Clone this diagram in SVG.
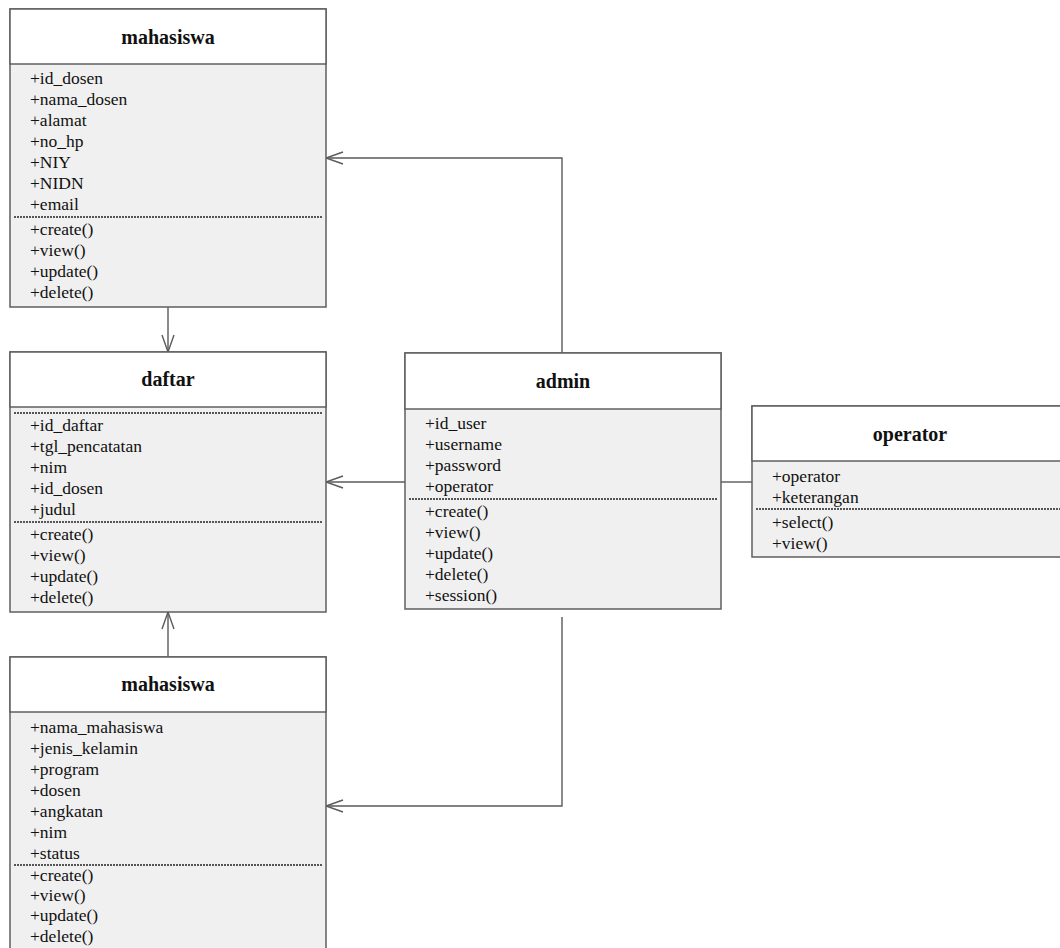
<svg xmlns="http://www.w3.org/2000/svg" width="1060" height="948" viewBox="0 0 1060 948">
<style>
.box{fill:#f0f0f0;stroke:#5f5f5f;stroke-width:1.5}
.hdr{fill:#ffffff;stroke:#5f5f5f;stroke-width:1.5}
.dot{stroke:#222;stroke-width:1.3;stroke-dasharray:2,1;fill:none}
.t{font-family:"Liberation Serif","Times New Roman",serif;font-size:17.5px;fill:#111}
.h{font-family:"Liberation Serif","Times New Roman",serif;font-size:20px;font-weight:bold;fill:#111;text-anchor:middle}
.c{fill:none;stroke:#5a5a5a;stroke-width:1.4}
</style>
<defs>
<marker id="arr" markerUnits="userSpaceOnUse" viewBox="-19 -8 21 16" markerWidth="21" markerHeight="16" refX="0" refY="0" orient="auto" overflow="visible">
<path d="M-17,-6 L0,0 L-17,6" fill="none" stroke="#5a5a5a" stroke-width="1.4"/>
</marker>
</defs>

<g id="connectors">
<path class="c" d="M168,307 L168,352" marker-end="url(#arr)"/>
<path class="c" d="M168,657 L168,612" marker-end="url(#arr)"/>
<path class="c" d="M562,353 L562,158 L326,158" marker-end="url(#arr)"/>
<path class="c" d="M405,482 L326,482" marker-end="url(#arr)"/>
<path class="c" d="M562,617 L562,806 L326,806" marker-end="url(#arr)"/>
<path class="c" d="M721,482 L752,482"/>
</g>

<g id="mahasiswa-top">
<rect class="box" x="10" y="9" width="316" height="298"/>
<rect class="hdr" x="10" y="9" width="316" height="55"/>
<text class="h" x="168" y="44">mahasiswa</text>
<text class="t" x="30" y="84">+id_dosen</text>
<text class="t" x="30" y="105">+nama_dosen</text>
<text class="t" x="30" y="126">+alamat</text>
<text class="t" x="30" y="147">+no_hp</text>
<text class="t" x="30" y="168">+NIY</text>
<text class="t" x="30" y="189">+NIDN</text>
<text class="t" x="30" y="210">+email</text>
<line class="dot" x1="14" y1="217" x2="322" y2="217"/>
<text class="t" x="30" y="235">+create()</text>
<text class="t" x="30" y="256">+view()</text>
<text class="t" x="30" y="277">+update()</text>
<text class="t" x="30" y="298">+delete()</text>
</g>

<g id="daftar">
<rect class="box" x="10" y="352" width="316" height="260"/>
<rect class="hdr" x="10" y="352" width="316" height="55"/>
<text class="h" x="168" y="386">daftar</text>
<line class="dot" x1="14" y1="413" x2="322" y2="413"/>
<text class="t" x="30" y="431">+id_daftar</text>
<text class="t" x="30" y="452">+tgl_pencatatan</text>
<text class="t" x="30" y="473">+nim</text>
<text class="t" x="30" y="494">+id_dosen</text>
<text class="t" x="30" y="515">+judul</text>
<line class="dot" x1="14" y1="522" x2="322" y2="522"/>
<text class="t" x="30" y="540">+create()</text>
<text class="t" x="30" y="561">+view()</text>
<text class="t" x="30" y="582">+update()</text>
<text class="t" x="30" y="603">+delete()</text>
</g>

<g id="admin">
<rect class="box" x="405" y="353" width="316" height="256"/>
<rect class="hdr" x="405" y="353" width="316" height="56"/>
<text class="h" x="563" y="388">admin</text>
<text class="t" x="425" y="429">+id_user</text>
<text class="t" x="425" y="450">+username</text>
<text class="t" x="425" y="471">+password</text>
<text class="t" x="425" y="492">+operator</text>
<line class="dot" x1="409" y1="499" x2="717" y2="499"/>
<text class="t" x="425" y="517">+create()</text>
<text class="t" x="425" y="538">+view()</text>
<text class="t" x="425" y="559">+update()</text>
<text class="t" x="425" y="580">+delete()</text>
<text class="t" x="425" y="601">+session()</text>
</g>

<g id="operator">
<rect class="box" x="752" y="406" width="316" height="151"/>
<rect class="hdr" x="752" y="406" width="316" height="55"/>
<text class="h" x="910" y="441">operator</text>
<text class="t" x="772" y="482">+operator</text>
<text class="t" x="772" y="503">+keterangan</text>
<line class="dot" x1="756" y1="509" x2="1064" y2="509"/>
<text class="t" x="772" y="528">+select()</text>
<text class="t" x="772" y="549">+view()</text>
</g>

<g id="mahasiswa-bottom">
<rect class="box" x="10" y="657" width="316" height="300"/>
<rect class="hdr" x="10" y="657" width="316" height="55"/>
<text class="h" x="168" y="691">mahasiswa</text>
<text class="t" x="30" y="733">+nama_mahasiswa</text>
<text class="t" x="30" y="754">+jenis_kelamin</text>
<text class="t" x="30" y="775">+program</text>
<text class="t" x="30" y="796">+dosen</text>
<text class="t" x="30" y="817">+angkatan</text>
<text class="t" x="30" y="838">+nim</text>
<text class="t" x="30" y="859">+status</text>
<line class="dot" x1="14" y1="865" x2="322" y2="865"/>
<text class="t" x="30" y="881">+create()</text>
<text class="t" x="30" y="901">+view()</text>
<text class="t" x="30" y="921">+update()</text>
<text class="t" x="30" y="942">+delete()</text>
</g>
</svg>
